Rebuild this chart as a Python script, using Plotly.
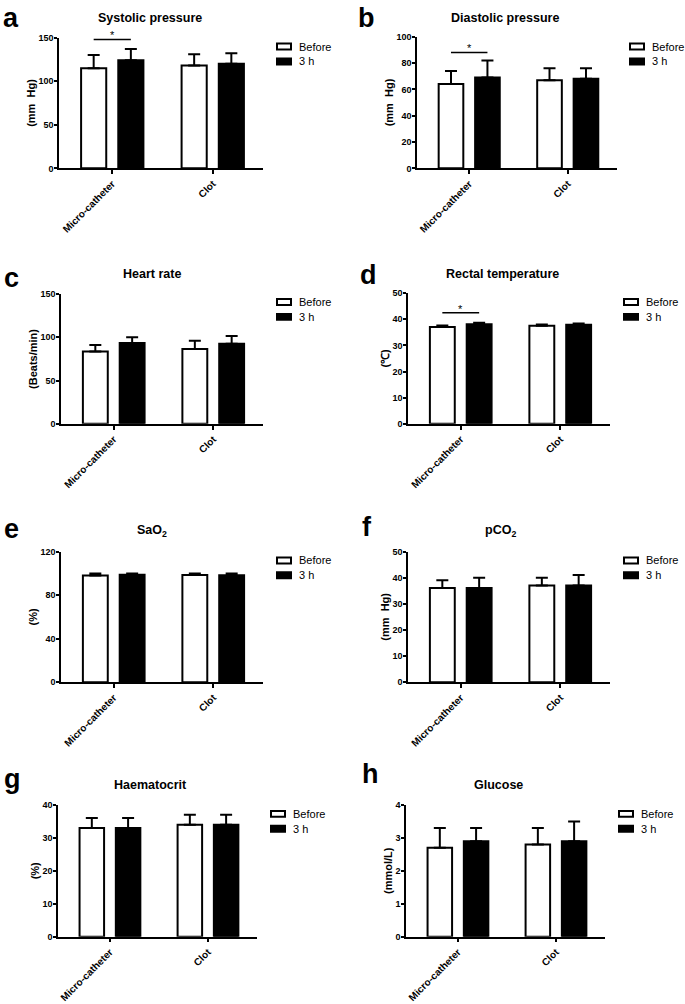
import plotly.graph_objects as go

W, H = 685, 1004
FONT = "Arial, Liberation Sans, Helvetica, sans-serif"

# ---------------- data ----------------
categories = ["Micro-catheter", "Clot"]
series_names = ["Before", "3 h"]
series_fill = ["white", "black"]
panel_letters = ["a", "b", "c", "d", "e", "f", "g", "h"]
panel_titles = ["Systolic pressure", "Diastolic pressure", "Heart rate", "Rectal temperature",
                "SaO<sub>2</sub>", "pCO<sub>2</sub>", "Haematocrit", "Glucose"]
y_titles = ["(mm&nbsp; Hg)", "(mm&nbsp; Hg)", "(Beats/min)", "(\u2103)",
            "(%)", "(mm&nbsp; Hg)", "(%)", "(mmol/L)"]
y_max = [150, 100, 150, 50, 120, 50, 40, 4]
y_dtick = [50, 20, 50, 10, 40, 10, 10, 1]

systolic_before = [115, 118]; systolic_before_sd = [15, 13]
systolic_3h = [124, 120];     systolic_3h_sd = [13, 12]
diastolic_before = [64, 67];  diastolic_before_sd = [10, 9]
diastolic_3h = [69, 68];      diastolic_3h_sd = [13, 8]
heart_before = [83.5, 86.5];  heart_before_sd = [7.5, 9.5]
heart_3h = [93.5, 92.5];      heart_3h_sd = [6.5, 9]
temp_before = [37.0, 37.5];   temp_before_sd = [0.6, 0.5]
temp_3h = [38.1, 37.9];       temp_3h_sd = [0.6, 0.5]
sao2_before = [98.0, 98.5];   sao2_before_sd = [1.7, 1.2]
sao2_3h = [98.7, 98.2];       sao2_3h_sd = [1.0, 1.5]
pco2_before = [36, 37];       pco2_before_sd = [3, 3]
pco2_3h = [36, 37];           pco2_3h_sd = [4, 4]
hct_before = [33, 34];        hct_before_sd = [3, 3]
hct_3h = [33, 34];            hct_3h_sd = [3, 3]
glucose_before = [2.7, 2.8];  glucose_before_sd = [0.6, 0.5]
glucose_3h = [2.9, 2.9];      glucose_3h_sd = [0.4, 0.6]

# significance bar height (None = no bar), compared pair in Micro-catheter group
sig_level = [148, 88, None, 42.5, None, None, None, None]

before_vals = [systolic_before, diastolic_before, heart_before, temp_before,
               sao2_before, pco2_before, hct_before, glucose_before]
before_sds = [systolic_before_sd, diastolic_before_sd, heart_before_sd, temp_before_sd,
              sao2_before_sd, pco2_before_sd, hct_before_sd, glucose_before_sd]
after_vals = [systolic_3h, diastolic_3h, heart_3h, temp_3h,
              sao2_3h, pco2_3h, hct_3h, glucose_3h]
after_sds = [systolic_3h_sd, diastolic_3h_sd, heart_3h_sd, temp_3h_sd,
             sao2_3h_sd, pco2_3h_sd, hct_3h_sd, glucose_3h_sd]

# ---------------- layout geometry (pixels) ----------------
# plot boxes: (left, right, top, bottom)
boxes = [(59, 263, 33, 165), (417, 617, 32, 165),
         (61, 263, 292, 423), (408, 610, 291, 423),
         (61, 263, 552, 684), (408, 610, 552, 684),
         (58, 257, 808, 941), (406, 605, 808, 941)]
title_pos = [(150, 13), (505, 13), (152, 272), (502, 272),
             (152, 531), (500, 531), (150, 788), (499, 788)]
letter_pos = [(1, 13), (356, 13), (2, 276), (358, 273),
              (2, 529), (360, 527), (2, 782), (360, 777)]
# legend: (swatch left x, first row centre y)
legend_pos = [(276, 42), (629, 42), (276, 300), (623, 300),
              (276, 561), (623, 561), (270, 817), (618, 817)]
SW_W, SW_H, ROW_GAP = 16, 8, 15

BARGAP = 0.26
BARGROUPGAP = 0.324
half_slot = (1 - BARGAP) / 4  # offset of each bar center from category center


def px_x(x):
    return x / W


def px_y(y):
    return 1 - y / H


fig = go.Figure()
layout = {}
annotations = []
shapes = []

for i in range(8):
    n = i + 1
    xa = "x" if n == 1 else f"x{n}"
    ya = "y" if n == 1 else f"y{n}"
    for name, vals, sds, fill in [(series_names[0], before_vals[i], before_sds[i], series_fill[0]),
                                  (series_names[1], after_vals[i], after_sds[i], series_fill[1])]:
        fig.add_trace(go.Bar(
            x=categories, y=vals, name=name,
            marker=dict(color=fill, line=dict(color="black", width=2)),
            error_y=dict(type="data", symmetric=False, array=sds,
                         arrayminus=[0] * len(sds), color="black",
                         thickness=2, width=6),
            xaxis=xa, yaxis=ya, showlegend=False,
        ))

    l, r, t, b = boxes[i]
    layout["xaxis" if n == 1 else f"xaxis{n}"] = dict(
        domain=[px_x(l), px_x(r)], anchor=ya, type="category",
        range=[-0.53, 1.5], showline=True, linecolor="black", linewidth=1.5,
        ticks="outside", ticklen=4, tickwidth=1.5, tickcolor="black",
        tickangle=-45, showgrid=False, zeroline=False,
        tickfont=dict(family=FONT, size=10, color="black", weight="bold"),
    )
    layout["yaxis" if n == 1 else f"yaxis{n}"] = dict(
        domain=[px_y(b), px_y(t)], anchor=xa, range=[0, y_max[i]],
        dtick=y_dtick[i], tick0=0, showline=True, linecolor="black", linewidth=1.5,
        ticks="outside", ticklen=3, tickwidth=1.5, tickcolor="black",
        ticklabelstandoff=-1,
        showgrid=False, zeroline=False,
        tickfont=dict(family=FONT, size=9, color="black", weight="bold"),
        title=dict(text=f"<b>{y_titles[i]}</b>", standoff=1,
                   font=dict(family=FONT, size=11, color="black")),
    )

    # legend (swatch + label) per panel
    sx, sy = legend_pos[i]
    for k, (name, fill) in enumerate(zip(series_names, series_fill)):
        cy = sy + k * ROW_GAP
        shapes.append(dict(type="rect", xref="paper", yref="paper",
                           x0=px_x(sx + 1), x1=px_x(sx + SW_W - 1),
                           y0=px_y(cy - SW_H / 2 + 1), y1=px_y(cy + SW_H / 2 - 1),
                           fillcolor=fill, line=dict(color="black", width=2)))
        annotations.append(dict(text=name, x=px_x(sx + SW_W + 5), y=px_y(cy),
                                xref="paper", yref="paper", xanchor="left", yanchor="middle",
                                showarrow=False, font=dict(family=FONT, size=11, color="black")))

    tx, ty = title_pos[i]
    annotations.append(dict(text=f"<b>{panel_titles[i]}</b>", x=px_x(tx), y=px_y(ty),
                            xref="paper", yref="paper", xanchor="center", yanchor="middle",
                            showarrow=False, font=dict(family=FONT, size=12.5, color="black")))
    lx2, ly2 = letter_pos[i]
    annotations.append(dict(text=f"<b>{panel_letters[i]}</b>", x=px_x(lx2), y=px_y(ly2),
                            xref="paper", yref="paper", xanchor="left", yanchor="middle",
                            showarrow=False, font=dict(family=FONT, size=27, color="black")))

    if sig_level[i] is not None:
        shapes.append(dict(type="line", xref=xa, yref=ya,
                           x0=0 - half_slot, x1=0 + half_slot,
                           y0=sig_level[i], y1=sig_level[i],
                           line=dict(color="black", width=1.5)))
        annotations.append(dict(text="*", x=0, y=sig_level[i], xref=xa, yref=ya,
                                xanchor="center", yanchor="bottom", yshift=-4,
                                showarrow=False,
                                font=dict(family=FONT, size=11, color="black")))

fig.update_layout(
    width=W, height=H, margin=dict(l=0, r=0, t=0, b=0),
    paper_bgcolor="white", plot_bgcolor="white",
    barmode="group", bargap=BARGAP, bargroupgap=BARGROUPGAP,
    annotations=annotations, shapes=shapes,
    **layout,
)

fig.write_html("out.html", config={"displayModeBar": False},
               post_script="document.body.style.margin='0';document.body.style.padding='0';")
